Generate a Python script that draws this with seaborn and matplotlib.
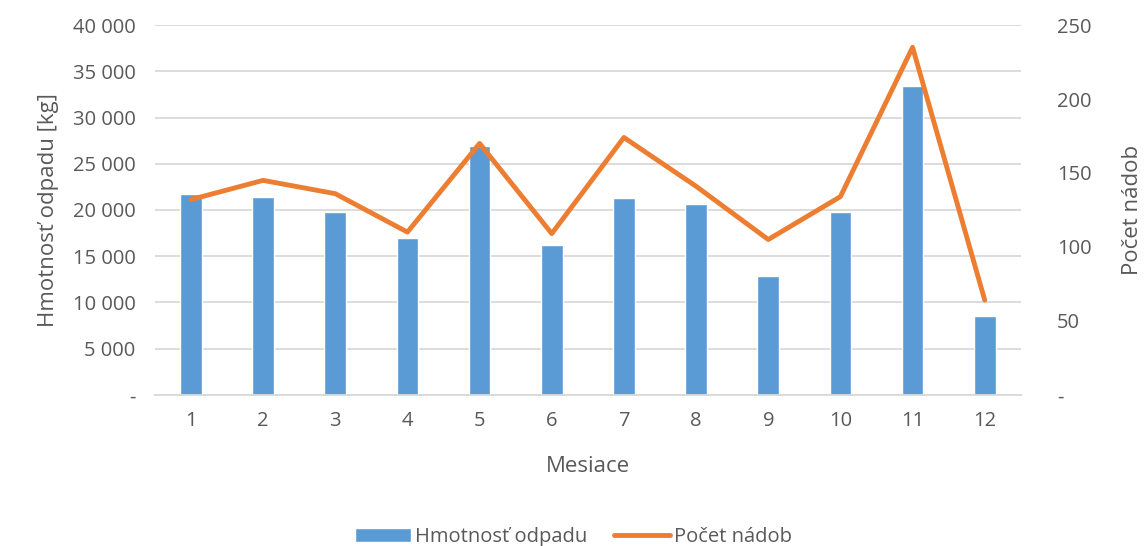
import numpy as np
import pandas as pd
import matplotlib
matplotlib.use("Agg")
import matplotlib.pyplot as plt
import seaborn as sns
from matplotlib.ticker import FuncFormatter, MultipleLocator

mesiace = [1, 2, 3, 4, 5, 6, 7, 8, 9, 10, 11, 12]
hmotnost = [21750, 21380, 19800, 16980, 26950, 16200, 21300, 20600, 12870, 19800, 33450, 8540]
pocet_nadob = [132, 145, 136, 110, 170, 109, 174, 141, 105, 134, 235, 64]

df = pd.DataFrame({"Mesiace": mesiace, "Hmotnost": hmotnost, "Pocet": pocet_nadob})

sns.set_style("white")
plt.rcParams['font.family'] = ['Open Sans', 'DejaVu Sans']
grey = "#595959"
blue = "#5B9BD5"
orange = "#ED7D31"

fig = plt.figure(figsize=(11.47, 5.46), dpi=100)
ax = fig.add_axes([0.135, 0.277, 0.755, 0.677])

sns.barplot(data=df, x="Mesiace", y="Hmotnost", color=blue, width=0.3,
            saturation=1, ax=ax, label="Hmotnosť odpadu", zorder=2)
ax.set_ylim(0, 40000)
ax.yaxis.set_major_locator(MultipleLocator(5000))

def fmt_left(v, pos):
    if v == 0:
        return "-"
    return f"{int(v):,}".replace(",", " ")

ax.yaxis.set_major_formatter(FuncFormatter(fmt_left))
ax.grid(axis="y", color="#d9d9d9", linewidth=1.3, zorder=0)
ax.set_axisbelow(True)

ax2 = ax.twinx()
sns.lineplot(x=np.arange(len(mesiace)), y=pocet_nadob, color=orange, linewidth=3.5,
             ax=ax2, label="Počet nádob", zorder=3)
ax2.set_ylim(0, 250)
ax2.yaxis.set_major_locator(MultipleLocator(50))
ax2.yaxis.set_major_formatter(FuncFormatter(lambda v, p: "-" if v == 0 else f"{int(v)}"))
ax.set_xlim(-0.5, 11.5)

for a in (ax, ax2):
    for s in a.spines.values():
        s.set_visible(False)
    a.tick_params(colors=grey, labelsize=14.5, length=0)
ax.spines["bottom"].set_visible(True)
ax.spines["bottom"].set_color("#d9d9d9")
ax.spines["bottom"].set_linewidth(1.3)
ax.tick_params(axis="y", pad=14)
ax.tick_params(axis="x", pad=12)
ax2.tick_params(axis="y", pad=26)

ax.set_xlabel("Mesiace", color=grey, fontsize=16, labelpad=18)
ax.set_ylabel("Hmotnosť odpadu [kg]", color=grey, fontsize=16, labelpad=10)
ax2.set_ylabel("Počet nádob", color=grey, fontsize=16, labelpad=22)

h1, l1 = ax.get_legend_handles_labels()
h2, l2 = ax2.get_legend_handles_labels()
if ax.get_legend():
    ax.get_legend().remove()
if ax2.get_legend():
    ax2.get_legend().remove()
fig.legend(h1 + h2, l1 + l2, loc="lower center", bbox_to_anchor=(0.5, -0.035),
           ncol=2, frameon=False, fontsize=14.5, labelcolor=grey,
           handlelength=2.8, handletextpad=0.2, columnspacing=1.3)

fig.savefig("out.png", dpi=100)
